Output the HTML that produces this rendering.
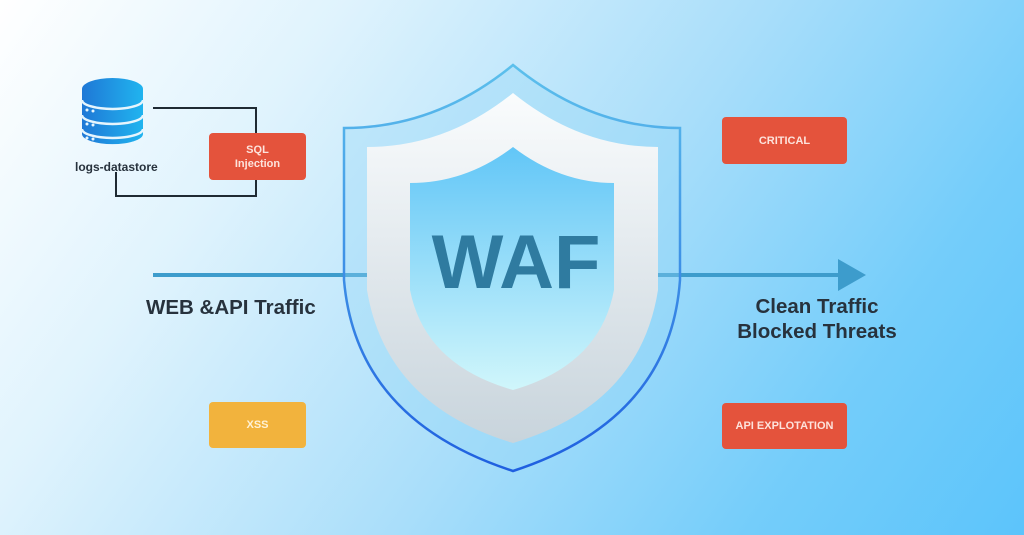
<!DOCTYPE html>
<html><head><meta charset="utf-8"><style>
html,body{margin:0;padding:0}
body{width:1024px;height:535px;overflow:hidden;position:relative;font-family:"Liberation Sans",sans-serif;
background:linear-gradient(125deg,#ffffff 0%,#dff3fd 25%,#a9defa 55%,#74cdfa 80%,#5cc4fb 100%);}
.box{position:absolute;border-radius:4px;color:#fde3dc;font-weight:bold;font-size:11px;display:flex;align-items:center;justify-content:center;text-align:center;line-height:14px}
.red{background:#e4533c}
.yel{background:#f2b33d;color:#fff2d6}
.t{position:absolute;font-weight:bold;color:#27323d;white-space:nowrap}
</style></head><body>
<svg width="1024" height="535" style="position:absolute;left:0;top:0">
<defs>
<linearGradient id="db" x1="0" y1="0" x2="1" y2="0"><stop offset="0" stop-color="#1f78d6"/><stop offset="1" stop-color="#20b4ef"/></linearGradient>
<linearGradient id="outer" x1="0" y1="0" x2="0" y2="1"><stop offset="0" stop-color="#5cc0ec"/><stop offset="1" stop-color="#1f5fe0"/></linearGradient>
<linearGradient id="band" x1="0" y1="0" x2="0" y2="1"><stop offset="0" stop-color="#fafcfd"/><stop offset="1" stop-color="#c8d4dc"/></linearGradient>
<linearGradient id="inner" x1="0" y1="0" x2="0" y2="1"><stop offset="0" stop-color="#62c6f7"/><stop offset="1" stop-color="#d0f6fb"/></linearGradient>
</defs>
<!-- connector lines -->
<path d="M153 108 H256 V133 M256 180 V196 H116 V172" fill="none" stroke="#1f2a33" stroke-width="2"/>
<!-- traffic lines -->
<rect x="153" y="273" width="220" height="4" fill="#3d9ccc"/>
<rect x="652" y="273" width="190" height="4" fill="#3d9ccc"/>
<polygon points="838,259 866,275 838,291" fill="#3d9ccc"/>
<!-- db -->
<path d="M82 89 V134 A30 10 0 0 0 143 134 V89 Z" fill="url(#db)"/>
<ellipse cx="112.5" cy="89" rx="30.5" ry="11" fill="url(#db)"/>
<path d="M82 100 A30.5 9 0 0 0 143 100" fill="none" stroke="#e6f5fd" stroke-width="2.5"/>
<path d="M82 115 A30.5 9 0 0 0 143 115" fill="none" stroke="#e6f5fd" stroke-width="2.5"/>
<path d="M82 129 A30.5 9 0 0 0 143 129" fill="none" stroke="#e6f5fd" stroke-width="2.5"/>
<g fill="#e6f5fd"><circle cx="87" cy="110" r="1.5"/><circle cx="93" cy="111" r="1.5"/><circle cx="87" cy="124" r="1.5"/><circle cx="93" cy="125" r="1.5"/><circle cx="87" cy="138" r="1.5"/><circle cx="93" cy="139" r="1.5"/></g>
<!-- shield -->
<path d="M513 65 Q590 128 680 128 L680 280 Q670 420 513 471 Q356 420 344 280 L344 128 Q436 128 513 65 Z" fill="rgba(150,215,245,0.35)" stroke="url(#outer)" stroke-width="2.5"/>
<path d="M513 93 Q580 147 658 147 L658 290 Q640 405 513 443 Q386 405 367 290 L367 147 Q446 147 513 93 Z" fill="url(#band)"/>
<path d="M513 147 Q560 183 614 183 L614 290 Q600 365 513 390 Q425 365 410 290 L410 183 Q466 183 513 147 Z" fill="url(#inner)"/>
<text x="516" y="288" text-anchor="middle" font-family="Liberation Sans, sans-serif" font-weight="bold" font-size="76" fill="#2f7ba0">WAF</text>
</svg>
<div class="t" style="left:75px;top:160px;font-size:12px;color:#27323d">logs-datastore</div>
<div class="box red" style="left:209px;top:133px;width:97px;height:47px">SQL<br>Injection</div>
<div class="box red" style="left:722px;top:117px;width:125px;height:47px">CRITICAL</div>
<div class="box yel" style="left:209px;top:402px;width:97px;height:46px">XSS</div>
<div class="box red" style="left:722px;top:403px;width:125px;height:46px">API EXPLOTATION</div>
<div class="t" style="left:146px;top:296px;font-size:20.5px">WEB &amp;API Traffic</div>
<div class="t" style="left:737px;top:294px;width:160px;text-align:center;font-size:20.5px;line-height:25px">Clean Traffic<br>Blocked Threats</div>
</body></html>
